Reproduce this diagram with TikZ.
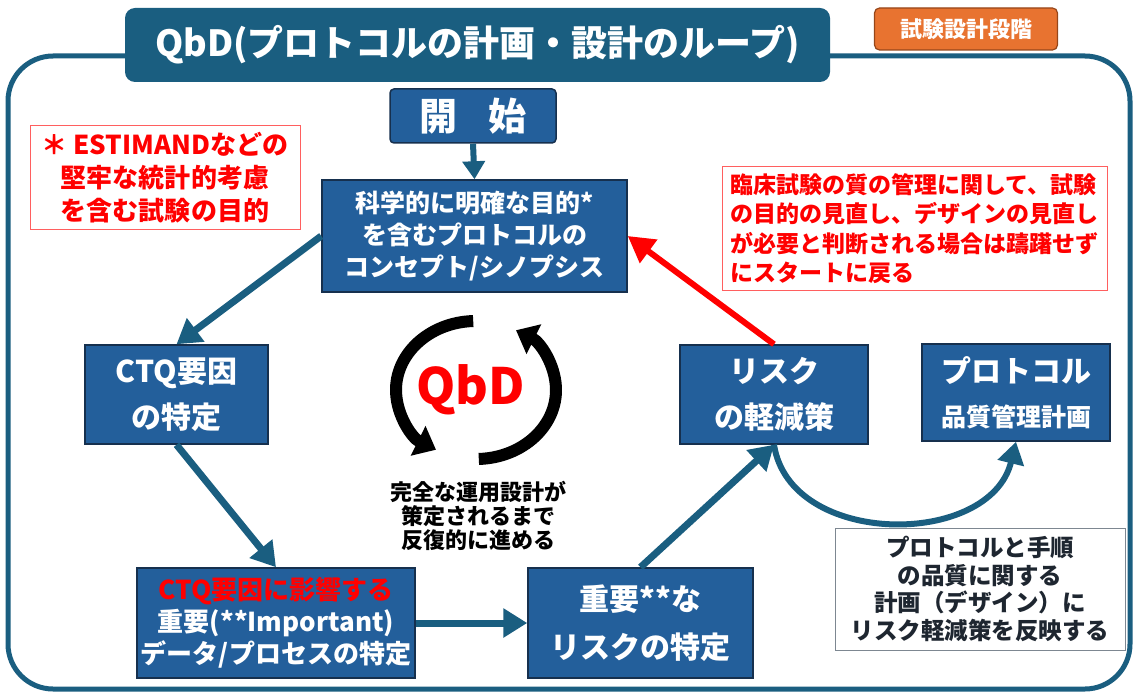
\documentclass[tikz,border=0pt]{standalone}
\usepackage{fontspec}
\setmainfont{Noto Sans CJK JP}
\usetikzlibrary{arrows.meta}
\definecolor{qteal}{RGB}{26,94,128}
\definecolor{qblue}{RGB}{35,95,155}
\definecolor{qborder}{RGB}{22,48,78}
\definecolor{qorange}{RGB}{232,115,48}
\definecolor{qobord}{RGB}{150,70,25}
\definecolor{qred}{RGB}{255,0,0}
\definecolor{qredbord}{RGB}{255,95,95}
\definecolor{qgray}{RGB}{125,135,145}
\definecolor{qdark}{RGB}{30,38,48}
\newcommand\fz[2]{\fontsize{#1}{#2}\selectfont}
\begin{document}
\begin{tikzpicture}[x=1pt,y=-1pt,
  bluebox/.style={draw=qborder, line width=1.5pt, fill=qblue, text=white, align=center, inner sep=0pt, font=\bfseries},
  redbox/.style={draw=qredbord, line width=1pt, fill=white, text=qred, inner sep=0pt, font=\bfseries},
  conn/.style={qteal, line width=7pt, -{Triangle[length=24pt,width=28pt]}},
  cyc/.style={black, line width=12pt, -{Triangle[length=20pt,width=32pt]}}
]
\useasboundingbox (0,0) rectangle (1135,695);
% outer frame
\draw[qteal, line width=5pt, rounded corners=45pt] (8,56) rectangle (1130,689);
% title
\node[fill=qteal, rounded corners=10pt, minimum width=705pt, minimum height=74pt, inner sep=0pt, text=white, font=\fz{36}{40}\bfseries] (title) at (477.5,45) {QbD(プロトコルの計画・設計のループ)};
\node[fill=qorange, draw=qobord, line width=1.2pt, rounded corners=5pt, minimum width=183pt, minimum height=42pt, inner sep=0pt, text=white, font=\fz{22}{24}\bfseries] (phase) at (966,29) {試験設計段階};
% nodes
\node[bluebox, rounded corners=4pt, minimum width=166pt, minimum height=54pt, font=\fz{38}{40}\bfseries] (start) at (473,116) {開\hspace{0.8em}始};
\node[bluebox, minimum width=305pt, minimum height=112pt, font=\fz{25}{32}\bfseries] (sci) at (474.5,236) {科学的に明確な目的*\\を含むプロトコルの\\コンセプト/シノプシス};
\node[redbox, minimum width=270pt, minimum height=104pt, align=center, font=\fz{26}{33}\bfseries] (noteL) at (165,178) {＊ ESTIMANDなどの\\堅牢な統計的考慮\\を含む試験の目的};
\node[redbox, minimum width=385pt, minimum height=123pt, align=left, font=\fz{23}{29.5}\bfseries] (noteR) at (914.5,228.5) {臨床試験の質の管理に関して、試験\\の目的の見直し、デザインの見直し\\が必要と判断される場合は躊躇せず\\にスタートに戻る};
\node[bluebox, minimum width=183pt, minimum height=99pt, font=\fz{30}{46}\bfseries] (ctq) at (176.5,394.5) {CTQ要因\\の特定};
\node[bluebox, minimum width=188pt, minimum height=99pt, font=\fz{30}{46}\bfseries] (risk) at (774,394.5) {リスク\\の軽減策};
\node[bluebox, minimum width=188pt, minimum height=97pt, font=\fz{30}{46}\bfseries] (plan) at (1016,392.5) {プロトコル\\[-2pt]\fz{25}{44}品質管理計画};
\node[bluebox, minimum width=278pt, minimum height=110pt, font=\fz{26}{32}\bfseries] (ctqimp) at (276,623) {\textcolor{qred}{CTQ要因に影響する}\\重要(**Important)\\データ/プロセスの特定};
\node[bluebox, minimum width=225pt, minimum height=110pt, font=\fz{30}{48}\bfseries] (imp) at (640.5,623) {重要**な\\リスクの特定};
\node[draw=qgray, line width=1pt, fill=white, text=qdark, minimum width=290pt, minimum height=122pt, inner sep=0pt, align=center, font=\fz{23.5}{27.5}\bfseries] (note) at (980,589) {プロトコルと手順\\の品質に関する\\計画（デザイン）に\\リスク軽減策を反映する};
% center cycle
\node[text=qred, font=\fz{50}{54}\bfseries, inner sep=0pt] (qbd) at (471,390) {QbD};
\node[text=black, align=center, inner sep=0pt, font=\fz{22}{24}\bfseries] (iter) at (478,516) {完全な運用設計が\\策定されるまで\\反復的に進める};
\coordinate (cc) at (476,390);
\draw[cyc] ([shift={(-92:80 and 69)}]cc) arc[start angle=-92, end angle=-240, x radius=80, y radius=69];
\draw[cyc] ([shift={(88:80 and 69)}]cc) arc[start angle=88, end angle=-60, x radius=80, y radius=69];
% connectors
\draw[qteal, line width=6pt, -{Triangle[length=18pt,width=22pt]}] (start.south) -- (sci.north);
\draw[conn] (sci.west) -- (ctq.north);
\draw[conn] (ctq.south) -- (ctqimp.north);
\draw[conn] (ctqimp.east) -- (imp.west);
\draw[conn] (imp.north) -- (risk.south);
\draw[qred, line width=6pt, -{Triangle[length=26pt,width=28pt]}] (risk.north) -- (sci.east);
\draw[qteal, line width=6pt, -{Triangle[length=22pt,width=26pt]}] (risk.south) .. controls (790,548) and (990,548) .. (plan.south);
\end{tikzpicture}
\end{document}
